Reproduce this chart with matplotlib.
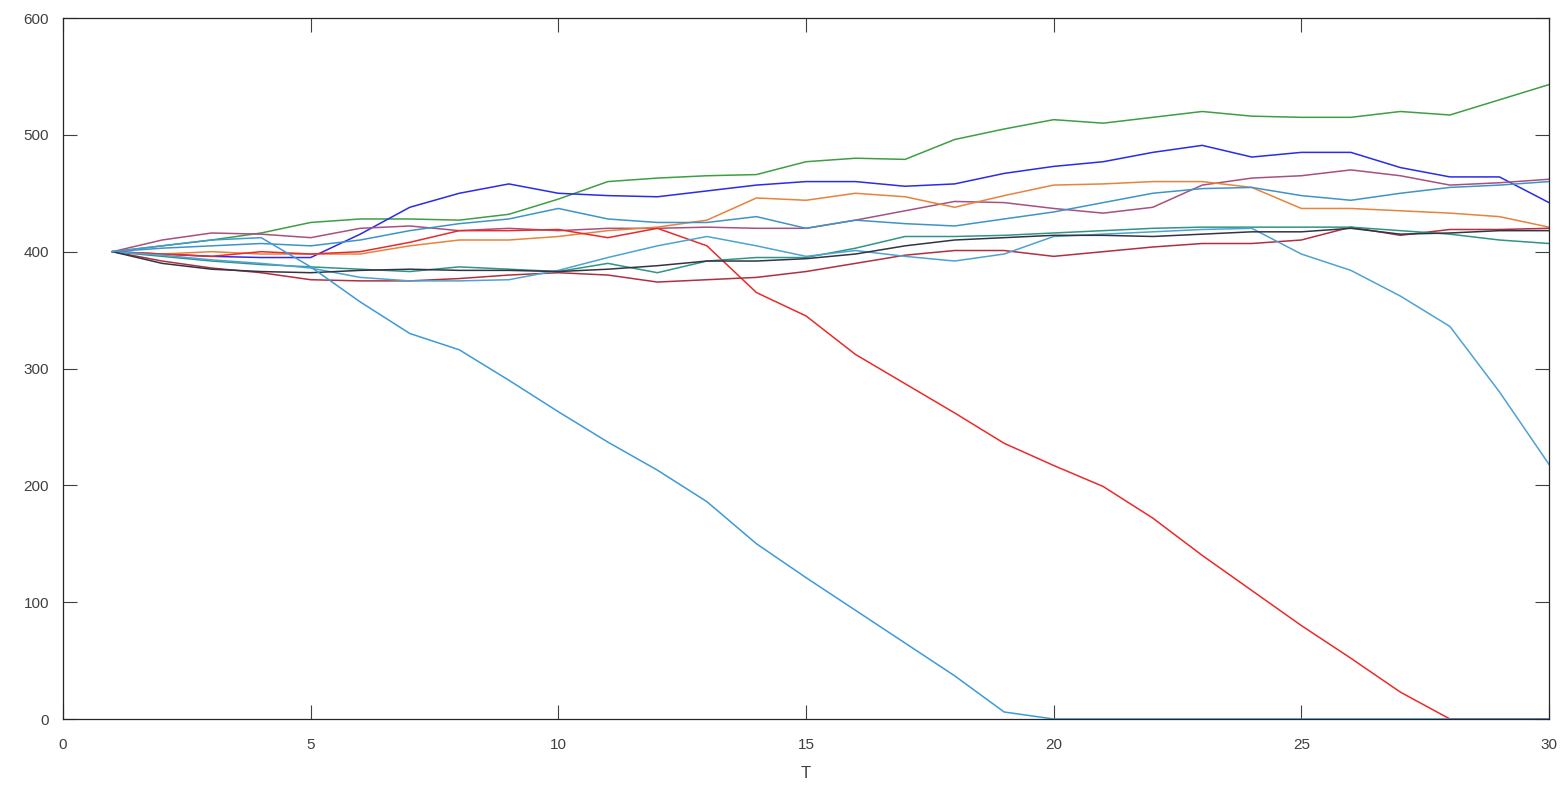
import numpy as np
import matplotlib
matplotlib.use("Agg")
import matplotlib.pyplot as plt

# time steps
T = np.arange(1, 31)

# series values (one per T)
green  = [400, 405, 410, 416, 425, 428, 428, 427, 432, 445, 460, 463, 465, 466, 477,
          480, 479, 496, 505, 513, 510, 515, 520, 516, 515, 515, 520, 517, 530, 543]
blue   = [400, 398, 396, 395, 395, 415, 438, 450, 458, 450, 448, 447, 452, 457, 460,
          460, 456, 458, 467, 473, 477, 485, 491, 481, 485, 485, 472, 464, 464, 442]
mauve  = [400, 410, 416, 415, 412, 420, 422, 418, 420, 418, 420, 420, 421, 420, 420,
          427, 435, 443, 442, 437, 433, 438, 457, 463, 465, 470, 465, 457, 459, 462]
orange = [400, 398, 400, 398, 398, 398, 405, 410, 410, 413, 418, 421, 427, 446, 444,
          450, 447, 438, 448, 457, 458, 460, 460, 455, 437, 437, 435, 433, 430, 421]
ltblue = [400, 403, 405, 407, 405, 410, 418, 424, 428, 437, 428, 425, 425, 430, 420,
          427, 424, 422, 428, 434, 442, 450, 454, 455, 448, 444, 450, 455, 457, 460]
red    = [400, 398, 396, 400, 398, 400, 408, 418, 418, 419, 412, 420, 405, 365, 345,
          312, 287, 262, 236, 217, 199, 172, 140, 110, 80, 52, 23, 0, 0, 0]
dkred  = [400, 392, 386, 382, 376, 375, 375, 377, 380, 382, 380, 374, 376, 378, 383,
          390, 397, 401, 401, 396, 400, 404, 407, 407, 410, 421, 414, 419, 419, 420]
teal   = [400, 396, 392, 389, 387, 385, 383, 387, 385, 383, 390, 382, 392, 395, 395,
          403, 413, 413, 414, 416, 418, 420, 421, 421, 421, 421, 418, 415, 410, 407]
drop2  = [400, 397, 393, 390, 386, 378, 375, 375, 376, 384, 395, 405, 413, 405, 396,
          401, 396, 392, 398, 413, 415, 417, 419, 420, 398, 384, 362, 336, 280, 218]
dark   = [400, 390, 385, 383, 382, 384, 385, 384, 384, 383, 385, 388, 392, 392, 394,
          398, 405, 410, 412, 414, 414, 413, 415, 417, 417, 420, 415, 416, 418, 418]
drop1  = [400, 405, 410, 412, 387, 357, 330, 316, 290, 263, 237, 213, 186, 150, 121,
          93, 65, 37, 6, 0, 0, 0, 0, 0, 0, 0, 0, 0, 0, 0]

series = [green, blue, mauve, orange, ltblue, red, dkred, teal, drop2, dark, drop1]
colors = ["#3f9e43", "#2b2bea", "#a8507f", "#e8823c", "#3f93c8", "#ea2a2a",
          "#b0303f", "#2f9585", "#4ea2d2", "#333344", "#3d9ad6"]

plt.rcParams["font.family"] = ["Liberation Sans", "DejaVu Sans"]

fig = plt.figure(figsize=(15.64, 7.87), dpi=100)
ax = fig.add_axes([0.0403, 0.0864, 0.9501, 0.8907])

for y, c in zip(series, colors):
    ax.plot(T, y, color=c, lw=1.1, clip_on=False)

ax.set_xlim(0, 30)
ax.set_ylim(0, 600)
ax.set_xticks(range(0, 31, 5))
ax.set_yticks(range(0, 601, 100))
ax.tick_params(direction="in", length=10, width=0.8, top=True, right=True,
               labelsize=11, colors="#404040")
ax.tick_params(axis="x", pad=14)
ax.tick_params(axis="y", pad=10)
for s in ax.spines.values():
    s.set_color("#262626")
    s.set_linewidth(0.9)
ax.set_xlabel("T", fontsize=12, color="#404040", labelpad=10)

fig.savefig("out.png", dpi=100, facecolor="white")
